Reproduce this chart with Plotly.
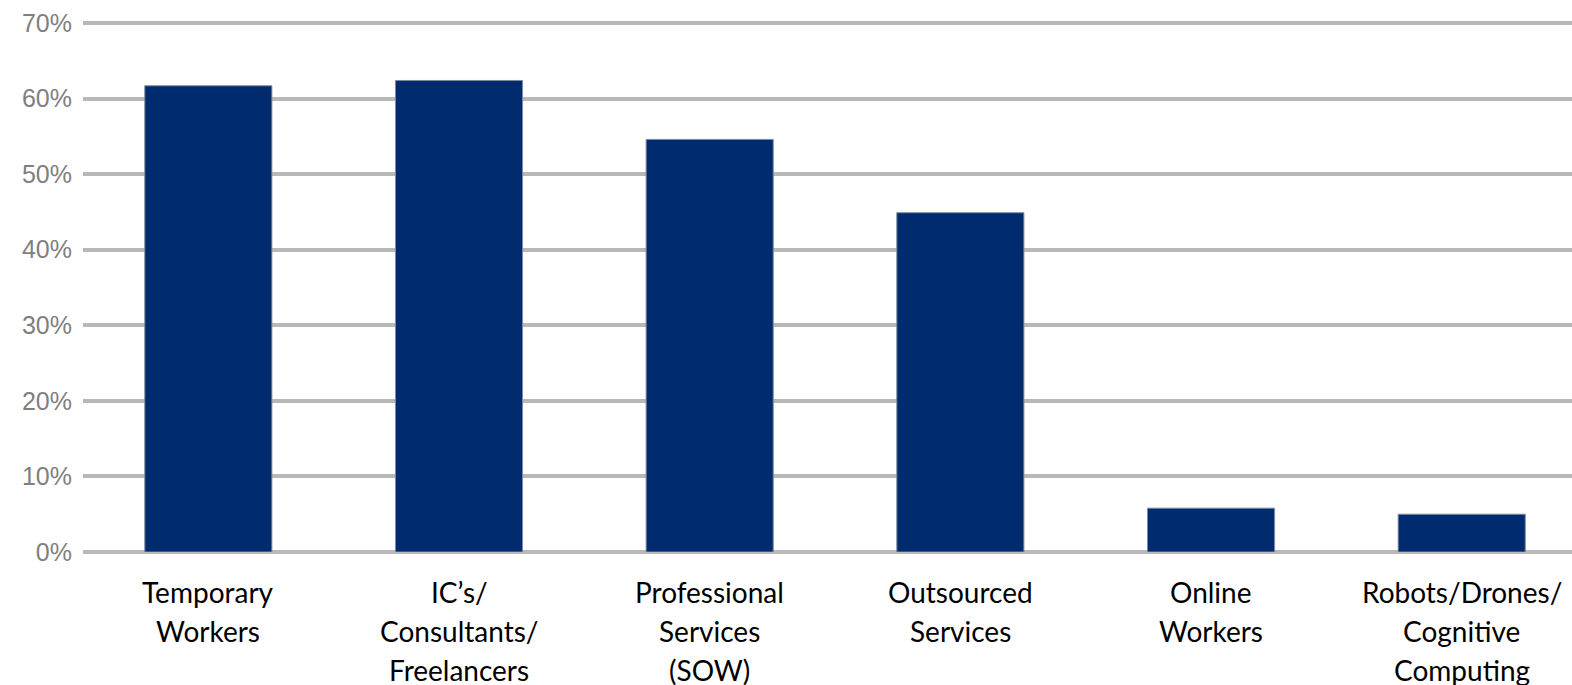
import plotly.graph_objects as go

# Share of respondents using each type of non-employee workforce
categories = [
    "Temporary Workers",
    "IC’s/ Consultants/ Freelancers",
    "Professional Services (SOW)",
    "Outsourced Services",
    "Online Workers",
    "Robots/Drones/ Cognitive Computing",
]
label_lines = [
    ["Temporary", "Workers"],
    ["IC’s/", "Consultants/", "Freelancers"],
    ["Professional", "Services", "(SOW)"],
    ["Outsourced", "Services"],
    ["Online", "Workers"],
    ["Robots/Drones/", "Cognitive", "Computing"],
]
shares = [0.617, 0.624, 0.546, 0.449, 0.058, 0.050]
y_ticks = [0.0, 0.1, 0.2, 0.3, 0.4, 0.5, 0.6, 0.7]

BAR = "#002B6E"
GRID = "#B8B8B8"

fig = go.Figure(
    go.Bar(
        x=list(range(len(categories))),
        y=shares,
        width=0.507,
        marker=dict(color=BAR, line=dict(color="#7F8AA3", width=1)),
        hoverinfo="skip",
    )
)

# Multi-line category labels under each bar
line_gap = 39
for i, lines in enumerate(label_lines):
    for k, txt in enumerate(lines):
        fig.add_annotation(
            x=i, xref="x", y=0, yref="paper",
            text=txt, showarrow=False,
            xanchor="center", yanchor="middle",
            yshift=-40 - k * line_gap,
            font=dict(family="Lato", size=28, color="#000000"),
        )

fig.update_layout(
    width=1572, height=685,
    margin=dict(l=83, r=0, t=21, b=133),
    paper_bgcolor="white", plot_bgcolor="white",
    showlegend=False,
    xaxis=dict(
        range=[-0.5, 5.44], showticklabels=False, showgrid=False,
        zeroline=False, showline=False, fixedrange=True,
    ),
    yaxis=dict(
        range=[0, 0.7027], tickvals=y_ticks, tickformat=".0%",
        showgrid=True, gridcolor=GRID, gridwidth=4,
        zeroline=True, zerolinecolor=GRID, zerolinewidth=4,
        showline=False, ticks="", ticklabelstandoff=10,
        tickfont=dict(family="Liberation Sans", size=25, color="#7F7F7F"),
        fixedrange=True,
    ),
)

fig.write_html("out.html")
